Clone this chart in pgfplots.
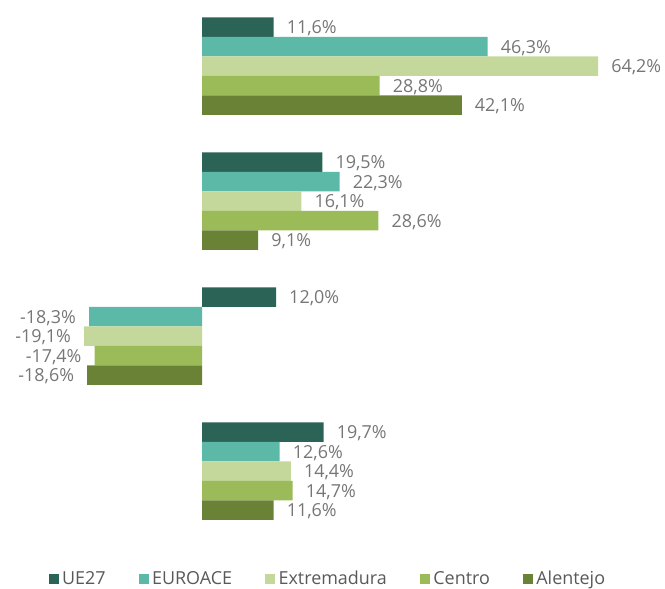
\documentclass[border=0pt]{standalone}
\usepackage{pgfplots}
\pgfplotsset{compat=1.18}
\usepackage{fontspec}
\setmainfont{Open Sans}
\definecolor{cUE}{HTML}{2B6457}
\definecolor{cEU}{HTML}{5CB9A8}
\definecolor{cEX}{HTML}{C4D89B}
\definecolor{cCE}{HTML}{9BBB59}
\definecolor{cAL}{HTML}{6A8236}
\definecolor{labc}{HTML}{767676}
\definecolor{legc}{HTML}{595959}
\begin{document}
\begin{tikzpicture}
\begin{axis}[
  scale only axis, width=665bp, height=589bp,
  hide axis,
  xmin=-32.74, xmax=75.04, ymin=-0.874, ymax=3.489,
  xbar=0pt, bar width=19.5bp,
  clip=false,
  point meta=x,
  nodes near coords={\pgfmathprintnumber[fixed,fixed zerofill,precision=1,use comma,assume math mode=true]{\pgfplotspointmeta}\%},
  nodes near coords align=horizontal,
  every node near coord/.append style={font=\fontsize{18}{20}\selectfont, text=labc, inner xsep=13bp, inner ysep=0pt, yshift=-1.5bp},
  legend columns=5,
  legend style={at={(0.493,0.0178)}, anchor=center, draw=none, fill=none, inner sep=0pt,
    font=\fontsize{18}{20}\selectfont, text=legc,
    /tikz/every odd column/.append style={column sep=1.5bp},
    /tikz/every even column/.append style={column sep=31bp}},
  legend image code/.code={\fill[#1] (0bp,-5bp) rectangle (10bp,5bp);},
]
\addplot[draw=none, fill=cUE, bar shift=39bp] coordinates {(11.6,3) (19.5,2) (12.0,1) (19.7,0)};
\addplot[draw=none, fill=cEU, bar shift=19.5bp] coordinates {(46.3,3) (22.3,2) (-18.3,1) (12.6,0)};
\addplot[draw=none, fill=cEX, bar shift=0bp] coordinates {(64.2,3) (16.1,2) (-19.1,1) (14.4,0)};
\addplot[draw=none, fill=cCE, bar shift=-19.5bp] coordinates {(28.8,3) (28.6,2) (-17.4,1) (14.7,0)};
\addplot[draw=none, fill=cAL, bar shift=-39bp] coordinates {(42.1,3) (9.1,2) (-18.6,1) (11.6,0)};
\legend{UE27, EUROACE, Extremadura, Centro, Alentejo}
\end{axis}
\pgfresetboundingbox
\useasboundingbox (current axis.south west) rectangle (current axis.north east);
\end{tikzpicture}
\end{document}
